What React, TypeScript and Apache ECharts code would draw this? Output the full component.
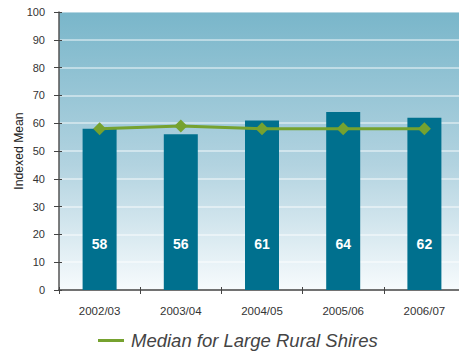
import React, { useEffect, useRef } from "react";
import * as echarts from "echarts";

const categories = ["2002/03", "2003/04", "2004/05", "2005/06", "2006/07"];
const indexedMean = [58, 56, 61, 64, 62];
const medianLargeRural = [58, 59, 58, 58, 58];
const seriesNames = ["Indexed Mean", "Median for Large Rural Shires"];
const yAxisTitle = "Indexed Mean";

const FONT = "'Liberation Sans', Arial, Helvetica, sans-serif";

export default function App() {
  const ref = useRef<HTMLDivElement>(null);

  useEffect(() => {
    if (!ref.current) return;
    const chart = echarts.init(ref.current, undefined, { renderer: "svg" });

    const yBase = {
      type: "value" as const,
      min: 0,
      max: 100,
      interval: 10,
    };

    chart.setOption({
      animation: false,
      grid: {
        left: 59,
        top: 12,
        width: 406,
        height: 278,
        outerBoundsMode: "none",
        containLabel: false,
        show: true,
        borderWidth: 0,
        backgroundColor: new echarts.graphic.LinearGradient(0, 0, 0, 1, [
          { offset: 0, color: "#79b6ca" },
          { offset: 0.55, color: "#b2d3e0" },
          { offset: 1, color: "#f7fbfd" },
        ]),
      },
      legend: {
        top: 326,
        left: 93,
        itemWidth: 26,
        itemHeight: 3,
        itemGap: 10,
        data: [{ name: seriesNames[1], icon: "rect" }],
        textStyle: {
          fontFamily: FONT,
          fontSize: 18.5,
          fontStyle: "italic",
          color: "#444",
          padding: [0, 0, 0, 2],
        },
      },
      xAxis: [
        {
          type: "category",
          data: categories,
          axisLine: { lineStyle: { color: "#444", width: 1.5 } },
          axisTick: { show: true, length: 4, lineStyle: { color: "#444" } },
          axisLabel: {
            fontFamily: FONT,
            fontSize: 11.5,
            color: "#333",
            margin: 15,
          },
          splitLine: { show: false },
        },
        {
          type: "category",
          data: categories,
          position: "bottom",
          axisLine: { show: false },
          axisTick: { show: true, inside: true, length: 3, lineStyle: { color: "#444" } },
          axisLabel: { show: false },
        },
      ],
      yAxis: [
        {
          ...yBase,
          name: yAxisTitle,
          nameLocation: "middle",
          nameGap: 34,
          nameMoveOverlap: false,
          nameTextStyle: { fontFamily: FONT, fontSize: 12.2, color: "#222" },
          axisLine: { show: true, lineStyle: { color: "#555", width: 1.5 } },
          axisTick: { show: true, length: 5, lineStyle: { color: "#444" } },
          axisLabel: {
            fontFamily: FONT,
            fontSize: 11,
            color: "#333",
            margin: 14,
          },
          splitLine: {
            show: true,
            lineStyle: { color: "rgba(255,255,255,0.6)", width: 1.5 },
          },
        },
        {
          ...yBase,
          position: "left",
          axisLine: { show: false },
          axisTick: { show: true, inside: true, length: 3, lineStyle: { color: "#444" } },
          axisLabel: { show: false },
          splitLine: { show: false },
        },
      ],
      series: [
        {
          name: seriesNames[0],
          type: "bar",
          data: indexedMean,
          barWidth: 34,
          itemStyle: { color: "#00708e" },
          label: {
            show: true,
            position: "insideBottom",
            distance: 39,
            color: "#fff",
            fontFamily: FONT,
            fontWeight: "bold",
            fontSize: 14,
          },
        },
        {
          name: seriesNames[1],
          type: "line",
          data: medianLargeRural,
          symbol: "diamond",
          symbolSize: 13,
          lineStyle: { color: "#76a22f", width: 3 },
          itemStyle: { color: "#76a22f" },
          z: 5,
        },
      ],
    });

    return () => chart.dispose();
  }, []);

  return (
    <div
      ref={ref}
      style={{ position: "absolute", left: 0, top: 0, width: 459, height: 354 }}
    />
  );
}
